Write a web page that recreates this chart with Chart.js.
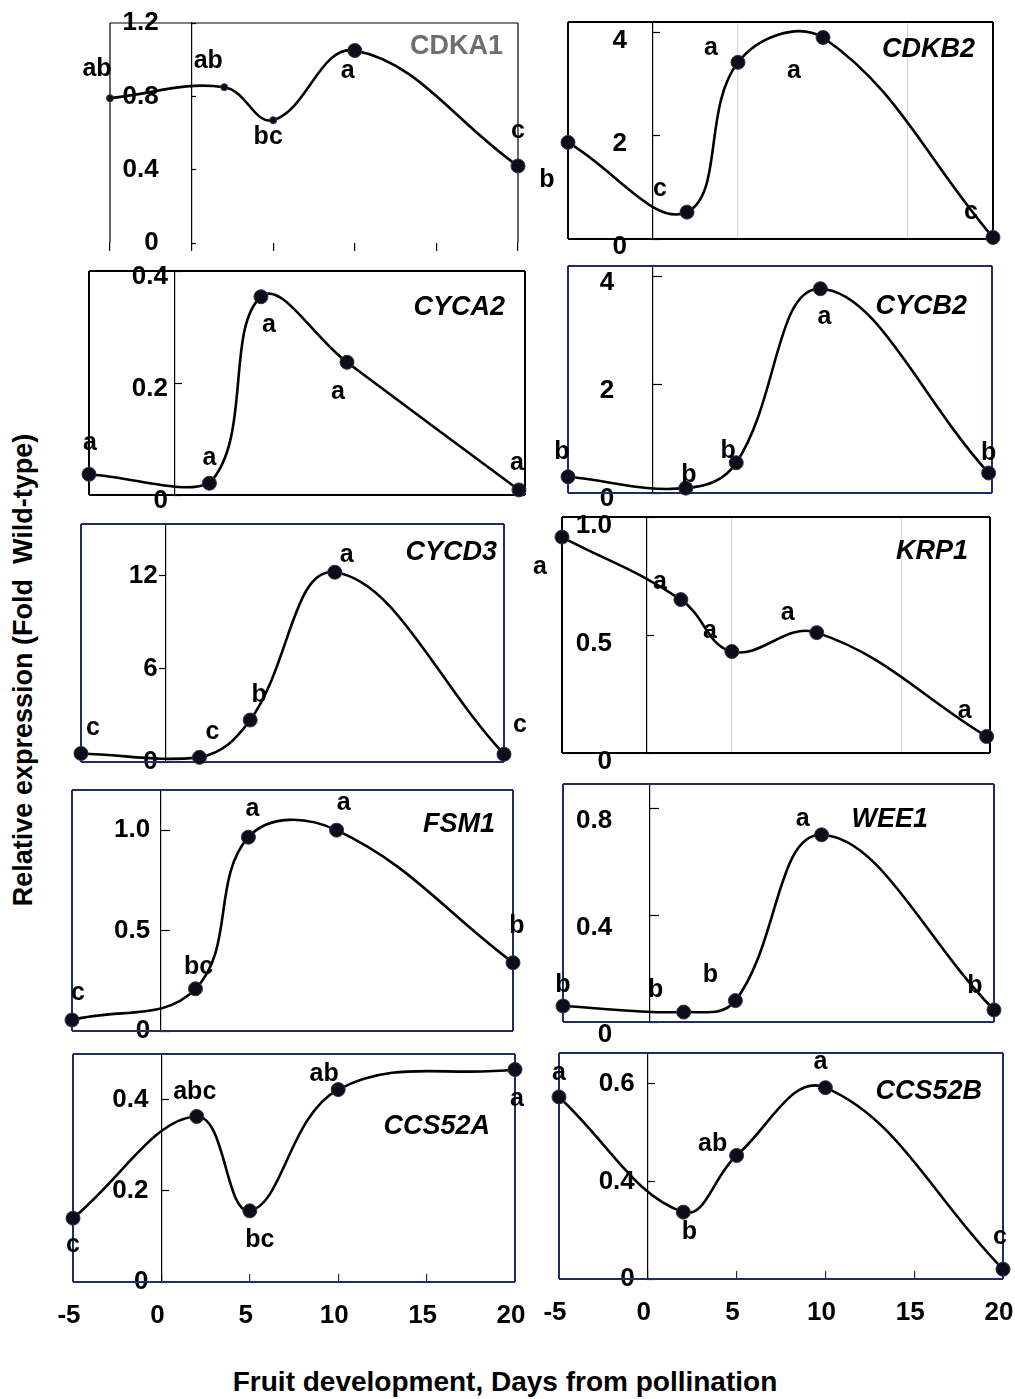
<!DOCTYPE html>
<html>
<head>
<meta charset="utf-8">
<script src="https://cdn.jsdelivr.net/npm/chart.js@4.4.1/dist/chart.umd.min.js"></script>
<style>
body { margin: 0; background: #fff; }
#page { position: relative; width: 1015px; height: 1399px; overflow: hidden; font-family: "Liberation Sans", Arial, sans-serif; }
#page canvas { position: absolute; }
.ytitle { position: absolute; left: 23px; top: 670px; transform: translate(-50%, -50%) rotate(-90deg); white-space: pre; font-weight: bold; font-size: 27px; color: #000; }
.xtitle { position: absolute; left: 505px; top: 1382px; transform: translate(-50%, -50%); white-space: nowrap; font-weight: bold; font-size: 28px; color: #000; }
</style>
</head>
<body>
<div id="page">
  <div class="ytitle">Relative expression (Fold  Wild-type)</div>
  <div class="xtitle">Fruit development, Days from pollination</div>
</div>
<script>
// jours de prélèvement (x) et graduations de l'axe x
const days = [-5, 2, 5, 10, 20];
const xTickValues = [-5, 0, 5, 10, 15, 20];

// valeurs (expression relative)
const cdka1 = [0.79, 0.85, 0.67, 1.05, 0.42];
const cdkb2 = [1.87, 0.52, 3.42, 3.9, 0.03];
const cyca2 = [0.037, 0.021, 0.354, 0.237, 0.009];
const cycb2 = [0.30, 0.09, 0.56, 3.78, 0.37];
const cycd3 = [0.55, 0.3, 2.7, 12.2, 0.5];
const krp1 = [0.915, 0.65, 0.43, 0.51, 0.07];
const fsm1 = [0.055, 0.21, 0.965, 1.0, 0.34];
const wee1 = [0.06, 0.037, 0.08, 0.70, 0.045];
const ccs52a = [0.14, 0.363, 0.156, 0.422, 0.466];
const ccs52b = [0.573, 0.337, 0.453, 0.592, 0.22];

// lettres de significativité
const cdka1Letters = ['ab', 'ab', 'bc', 'a', 'c'];
const cdkb2Letters = ['b', 'c', 'a', 'a', 'c'];
const cyca2Letters = ['a', 'a', 'a', 'a', 'a'];
const cycb2Letters = ['b', 'b', 'b', 'a', 'b'];
const cycd3Letters = ['c', 'c', 'b', 'a', 'c'];
const krp1Letters = ['a', 'a', 'a', 'a', 'a'];
const fsm1Letters = ['c', 'bc', 'a', 'a', 'b'];
const wee1Letters = ['b', 'b', 'b', 'a', 'b'];
const ccs52aLetters = ['c', 'abc', 'bc', 'ab', 'a'];
const ccs52bLetters = ['a', 'b', 'ab', 'a', 'c'];

// graduations y et leurs textes
const cdka1Ticks = [0, 0.4, 0.8, 1.2];
const cdka1TickLabels = ['0', '0.4', '0.8', '1.2'];
const cdkb2Ticks = [0, 2, 4];
const cdkb2TickLabels = ['0', '2', '4'];
const cyca2Ticks = [0, 0.2, 0.4];
const cyca2TickLabels = ['0', '0.2', '0.4'];
const cycb2Ticks = [0, 2, 4];
const cycb2TickLabels = ['0', '2', '4'];
const cycd3Ticks = [0, 6, 12];
const cycd3TickLabels = ['0', '6', '12'];
const krp1Ticks = [0, 0.5, 1.0];
const krp1TickLabels = ['0', '0.5', '1.0'];
const fsm1Ticks = [0, 0.5, 1.0];
const fsm1TickLabels = ['0', '0.5', '1.0'];
const wee1Ticks = [0, 0.4, 0.8];
const wee1TickLabels = ['0', '0.4', '0.8'];
const ccs52aTicks = [0, 0.2, 0.4];
const ccs52aTickLabels = ['0', '0.2', '0.4'];
const ccs52bTicks = [0.2, 0.4, 0.6];
const ccs52bTickLabels = ['0', '0.4', '0.6'];

const FONT = '"Liberation Sans", Arial, sans-serif';
const NAVY = '#1f2c66';
const PAD = 48, PADB = 60, XAXIS_H = 50;

// mise en page de chaque panneau (boîte en pixels de la page)
const panels = [
  { title: 'CDKA1', values: cdka1, letters: cdka1Letters, yTicks: cdka1Ticks, yLabels: cdka1TickLabels,
    box: [110, 23, 518, 243], xRange: [-5, 20], yRange: [0, 1.2], gap: 33, yTickLen: -5, labelOffset: 0,
    frame: '#000', frameWidth: 1.2, sides: 'tlr', xTickMark: 8, titleColor: '#6e6e6e', italic: false, titlePos: [15, 24],
    radius: [3.5, 3.5, 3.5, 7, 7],
    offsets: [[-13, -29], [-16, -26], [-5, 17], [-7, 21], [0, -35]] },
  { title: 'CDKB2', values: cdkb2, letters: cdkb2Letters, yTicks: cdkb2Ticks, yLabels: cdkb2TickLabels,
    box: [568, 22, 993, 239], xRange: [-5, 20], yRange: [0, 4.2], gap: 26, yTickLen: -8, labelOffset: 8,
    frame: '#000', frameWidth: 2, xGrid: [5, 15], titlePos: [18, 28],
    offsets: [[-21, 38], [-27, -23], [-27, -14], [-29, 34], [-22, -25]] },
  { title: 'CYCA2', values: cyca2, letters: cyca2Letters, yTicks: cyca2Ticks, yLabels: cyca2TickLabels,
    box: [89, 271, 525, 495], xRange: [-5, 20.35], yRange: [0, 0.4], gap: 7, yTickLen: -8, labelOffset: 6,
    frame: '#000', frameWidth: 2, titlePos: [20, 37],
    offsets: [[1, -31], [0, -25], [8, 28], [-9, 30], [-2, -27]] },
  { title: 'CYCB2', values: cycb2, letters: cycb2Letters, yTicks: cycb2Ticks, yLabels: cycb2TickLabels,
    box: [568, 266, 992, 493], xRange: [-5, 20.2], yRange: [0, 4.2], gap: 38, yTickLen: -10, labelOffset: 6,
    frame: NAVY, frameWidth: 2, titlePos: [25, 41],
    offsets: [[-6, -25], [3, -13], [-8, -12], [4, 28], [0, -20]] },
  { title: 'CYCD3', values: cycd3, letters: cycd3Letters, yTicks: cycd3Ticks, yLabels: cycd3TickLabels,
    box: [81, 524, 504, 762], xRange: [-5, 20], yRange: [0, 15.3], gap: 8, yTickLen: 6, labelOffset: 0,
    frame: NAVY, frameWidth: 2, titlePos: [7, 29],
    offsets: [[12, -25], [13, -25], [9, -25], [12, -17], [16, -29]] },
  { title: 'KRP1', values: krp1, letters: krp1Letters, yTicks: krp1Ticks, yLabels: krp1TickLabels,
    box: [562, 517, 990, 753], xRange: [-5, 20.2], yRange: [0, 1.0], gap: 35, yTickLen: -8, labelOffset: 9,
    frame: '#000', frameWidth: 2, xGrid: [5, 15], titlePos: [22, 35],
    offsets: [[-22, 30], [-21, -17], [-22, -20], [-29, -20], [-22, -25]] },
  { title: 'FSM1', values: fsm1, letters: fsm1Letters, yTicks: fsm1Ticks, yLabels: fsm1TickLabels,
    box: [72, 790, 513, 1031], xRange: [-5, 20], yRange: [0, 1.2], gap: 10, yTickLen: -10, labelOffset: 0,
    frame: NAVY, frameWidth: 2, titlePos: [18, 35],
    offsets: [[6, -27], [3, -22], [4, -28], [7, -27], [4, -37]] },
  { title: 'WEE1', values: wee1, letters: wee1Letters, yTicks: wee1Ticks, yLabels: wee1TickLabels,
    box: [563, 784, 994, 1022], xRange: [-5, 20], yRange: [0, 0.89], gap: 37, yTickLen: -10, labelOffset: 13,
    frame: NAVY, frameWidth: 2, titlePos: [66, 36],
    offsets: [[0, -21], [-28, -22], [-25, -25], [-19, -16], [-19, -24]] },
  { title: 'CCS52A', values: ccs52a, letters: ccs52aLetters, yTicks: ccs52aTicks, yLabels: ccs52aTickLabels,
    box: [73, 1054, 515, 1282], xRange: [-5, 20], yRange: [0, 0.5], gap: 13, yTickLen: -8, labelOffset: 0,
    frame: NAVY, frameWidth: 2, xTickMark: -8, xLabels: true, titlePos: [25, 73],
    offsets: [[0, 27], [-2, -24], [10, 29], [-14, -15], [2, 30]] },
  { title: 'CCS52B', values: ccs52b, letters: ccs52bLetters, yTicks: ccs52bTicks, yLabels: ccs52bTickLabels,
    box: [559, 1053, 1003, 1279], xRange: [-5, 20], yRange: [0.2, 0.663], gap: 13, yTickLen: -8, labelOffset: 0,
    frame: NAVY, frameWidth: 2, xTickMark: -8, xLabels: true, titlePos: [21, 39],
    offsets: [[0, -24], [6, 20], [-24, -11], [-5, -26], [-3, -32]] }
];

// cadre, lettres et nom du gène
const deco = {
  id: 'deco',
  beforeDraw(chart, args, o) {
    // étiquettes y collées à gauche de la ligne du jour 0
    const x0 = chart.scales.x.getPixelForValue(0);
    chart.scales.y.getLabelItems(chart.chartArea).forEach(it => {
      it.options.translation[0] = x0 - o.gap;
      it.options.textAlign = 'right';
    });
  },
  beforeDatasetsDraw(chart, args, o) {
    const { ctx, chartArea: a } = chart;
    const sides = o.sides || 'tlrb';
    ctx.save();
    ctx.strokeStyle = o.frame;
    ctx.lineWidth = o.frameWidth;
    ctx.beginPath();
    if (sides.includes('t')) { ctx.moveTo(a.left, a.top); ctx.lineTo(a.right, a.top); }
    if (sides.includes('r')) { ctx.moveTo(a.right, a.top); ctx.lineTo(a.right, a.bottom); }
    if (sides.includes('b')) { ctx.moveTo(a.right, a.bottom); ctx.lineTo(a.left, a.bottom); }
    if (sides.includes('l')) { ctx.moveTo(a.left, a.bottom); ctx.lineTo(a.left, a.top); }
    ctx.stroke();
    ctx.restore();
  },
  afterDatasetsDraw(chart, args, o) {
    const { ctx, chartArea: a } = chart;
    const meta = chart.getDatasetMeta(0);
    ctx.save();
    ctx.fillStyle = '#000';
    ctx.font = 'bold 25px ' + FONT;
    ctx.textAlign = 'center';
    ctx.textBaseline = 'middle';
    o.letters.forEach((t, i) => {
      const pt = meta.data[i];
      ctx.fillText(t, pt.x + o.offsets[i][0], pt.y + o.offsets[i][1]);
    });
    ctx.font = (o.italic === false ? '' : 'italic ') + 'bold 27px ' + FONT;
    ctx.fillStyle = o.titleColor || '#000';
    ctx.textAlign = 'right';
    ctx.fillText(o.title, a.right - o.titlePos[0], a.top + o.titlePos[1]);
    ctx.restore();
  }
};

const page = document.getElementById('page');

function makePanel(p) {
  const [l, t, r, b] = p.box;
  const cv = document.createElement('canvas');
  const w = r - l + 2 * PAD, h = b - t + PAD + PADB;
  cv.width = w; cv.height = h;
  cv.style.left = (l - PAD) + 'px';
  cv.style.top = (t - PAD) + 'px';
  cv.style.width = w + 'px';
  cv.style.height = h + 'px';
  page.appendChild(cv);

  new Chart(cv.getContext('2d'), {
    type: 'line',
    data: {
      datasets: [{
        data: days.map((d, i) => ({ x: d, y: p.values[i] })),
        borderColor: '#000',
        borderWidth: 2.6,
        tension: 0.4,
        fill: false,
        clip: false,
        pointRadius: p.radius || 7,
        pointBackgroundColor: '#0d0d1a',
        pointBorderColor: '#2b3550',
        pointBorderWidth: 1
      }]
    },
    options: {
      responsive: false,
      animation: false,
      events: [],
      layout: { padding: { left: PAD, right: PAD, top: PAD, bottom: PADB - XAXIS_H } },
      plugins: {
        legend: { display: false },
        tooltip: { enabled: false },
        deco: {
          gap: p.gap, frame: p.frame, frameWidth: p.frameWidth, sides: p.sides,
          letters: p.letters, offsets: p.offsets, title: p.title, titlePos: p.titlePos,
          titleColor: p.titleColor, italic: p.italic
        }
      },
      scales: {
        x: {
          type: 'linear',
          min: p.xRange[0],
          max: p.xRange[1],
          afterBuildTicks: s => { s.ticks = xTickValues.map(v => ({ value: v })); },
          afterFit: s => { s.height = XAXIS_H; },
          border: { display: false },
          grid: {
            drawOnChartArea: !!p.xGrid,
            color: c => (p.xGrid && c.tick && p.xGrid.includes(c.tick.value)) ? '#d6d6d6' : 'rgba(0,0,0,0)',
            lineWidth: 1.2,
            drawTicks: !!p.xTickMark,
            tickLength: p.xTickMark || 0,
            tickColor: p.frame,
            tickWidth: 1.2
          },
          ticks: {
            display: !!p.xLabels,
            padding: 26,
            labelOffset: -4,
            autoSkip: false,
            maxRotation: 0,
            color: '#000',
            font: { family: FONT, size: 26, weight: 'bold' }
          }
        },
        y: {
          type: 'linear',
          min: p.yRange[0],
          max: p.yRange[1],
          position: { x: 0 },
          afterBuildTicks: s => { s.ticks = p.yTicks.map(v => ({ value: v })); },
          border: { display: true, color: '#000', width: 1.2 },
          grid: { drawOnChartArea: false, drawTicks: true, tickLength: p.yTickLen, color: '#000', tickWidth: 1.2 },
          ticks: {
            callback: (v, i) => p.yLabels[i],
            autoSkip: false,
            padding: 0,
            labelOffset: p.labelOffset,
            color: '#000',
            font: { family: FONT, size: 26, weight: 'bold' }
          }
        }
      }
    },
    plugins: [deco]
  });
}

panels.forEach(makePanel);
</script>
</body>
</html>
